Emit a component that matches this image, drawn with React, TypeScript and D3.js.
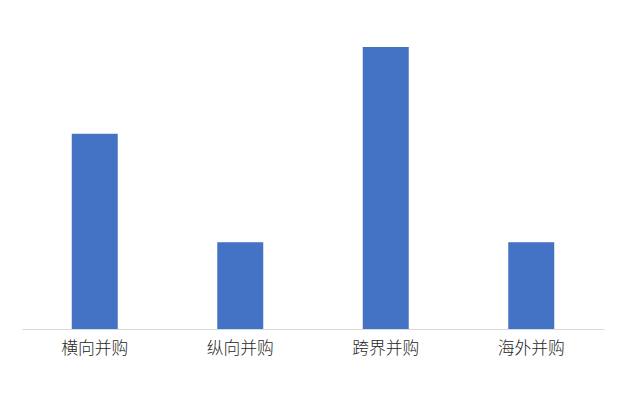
import { useEffect, useRef } from "react";
import * as d3 from "d3";

const categories = ["横向并购", "纵向并购", "跨界并购", "海外并购"];
const counts = [9, 4, 13, 4];

export default function App() {
  const ref = useRef<SVGSVGElement>(null);

  useEffect(() => {
    const svg = d3.select(ref.current);
    svg.selectAll("*").remove();

    const w = 629,
      h = 420,
      m = { left: 22, right: 25, base: 329, top: 47 };

    const x = d3
      .scaleBand<string>()
      .domain(categories)
      .range([m.left, w - m.right])
      .paddingInner(0.684)
      .paddingOuter(0.342);

    const y = d3
      .scaleLinear()
      .domain([0, d3.max(counts) ?? 0])
      .range([m.base, m.top]);

    svg.append("rect").attr("width", w).attr("height", h).attr("fill", "#fff");

    // bars
    svg
      .append("g")
      .selectAll("rect")
      .data(categories)
      .join("rect")
      .attr("x", (d) => x(d)!)
      .attr("y", (_, i) => y(counts[i]))
      .attr("width", x.bandwidth())
      .attr("height", (_, i) => y(0) - y(counts[i]))
      .attr("fill", "#4472C4");

    // category axis
    const axis = svg
      .append("g")
      .attr("transform", `translate(0,${y(0)})`)
      .call(d3.axisBottom(x).tickSize(0).tickPadding(13));
    axis.select(".domain").attr("stroke", "#d9d9d9").attr("stroke-width", 1);
    axis
      .selectAll("text")
      .attr("fill", "#262626")
      .attr("font-size", 16.8)
      .attr("font-weight", 300)
      .attr("font-family", "'Noto Sans CJK SC', sans-serif");
  }, []);

  return (
    <svg
      ref={ref}
      width={629}
      height={420}
      style={{ position: "absolute", left: 0, top: 0 }}
    />
  );
}
